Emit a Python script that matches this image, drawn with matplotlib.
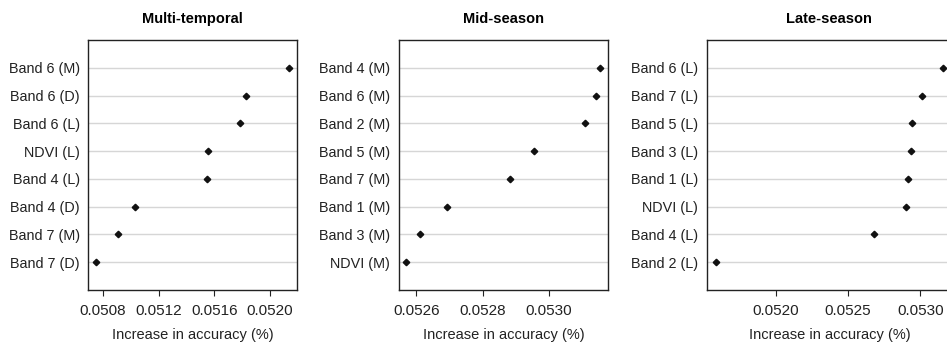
import numpy as np
import matplotlib.pyplot as plt

plt.rcParams['font.family'] = ['Liberation Sans', 'DejaVu Sans']

# Data (bottom to top as drawn)
multi_labels = ['Band 7 (D)', 'Band 7 (M)', 'Band 4 (D)', 'Band 4 (L)',
                'NDVI (L)', 'Band 6 (L)', 'Band 6 (D)', 'Band 6 (M)']
multi_values = [0.050748, 0.050906, 0.051028, 0.051547,
                0.051552, 0.051787, 0.051827, 0.052139]

mid_labels = ['NDVI (M)', 'Band 3 (M)', 'Band 1 (M)', 'Band 7 (M)',
              'Band 5 (M)', 'Band 2 (M)', 'Band 6 (M)', 'Band 4 (M)']
mid_values = [0.052570, 0.052611, 0.052691, 0.052882,
              0.052955, 0.053109, 0.053141, 0.053155]

late_labels = ['Band 2 (L)', 'Band 4 (L)', 'NDVI (L)', 'Band 1 (L)',
               'Band 3 (L)', 'Band 5 (L)', 'Band 7 (L)', 'Band 6 (L)']
late_values = [0.051587, 0.052684, 0.052905, 0.052919,
               0.052938, 0.052940, 0.053014, 0.053157]

titles = ['Multi-temporal', 'Mid-season', 'Late-season']
xticks = [[0.0508, 0.0512, 0.0516, 0.0520],
          [0.0526, 0.0528, 0.0530],
          [0.0520, 0.0525, 0.0530]]

W, H = 947, 343
fig = plt.figure(figsize=(W / 100, H / 100), dpi=100)

# axes boxes in pixels: left, right
boxes = [(88, 297), (398.7, 608), (706.7, 952)]
top, bottom = 40, 290

panels = [(multi_labels, multi_values), (mid_labels, mid_values), (late_labels, late_values)]

for (left, right), (labels, values), title, ticks in zip(boxes, panels, titles, xticks):
    ax = fig.add_axes([left / W, 1 - bottom / H, (right - left) / W, (bottom - top) / H])
    y = np.arange(1, len(values) + 1)
    for yy in y:
        ax.axhline(yy, color='#d6d6d6', lw=1.0, zorder=1)
    ax.plot(values, y, linestyle='none', marker='D', markersize=3.3,
            color='#111111', zorder=3)
    span = max(values) - min(values)
    ax.set_xlim(min(values) - 0.04 * span, max(values) + 0.04 * span)
    ax.set_ylim(0, len(values) + 1)
    ax.set_yticks(y)
    ax.set_yticklabels(labels, fontsize=10.4, color='#222222')
    ax.tick_params(axis='y', length=0, pad=6)
    ax.set_xticks(ticks)
    ax.set_xticklabels(['%.4f' % t for t in ticks], fontsize=11, color='#222222')
    ax.tick_params(axis='x', length=4, width=0.8, direction='out', pad=6, color='#222222')
    for s in ax.spines.values():
        s.set_linewidth(1.0)
        s.set_color('#222222')
    ax.set_xlabel('Increase in accuracy (%)', fontsize=10.5, color='#222222', labelpad=7)
    ax.set_title(title, fontsize=10.5, fontweight='bold', pad=12)

fig.savefig('out.png', dpi=100)
